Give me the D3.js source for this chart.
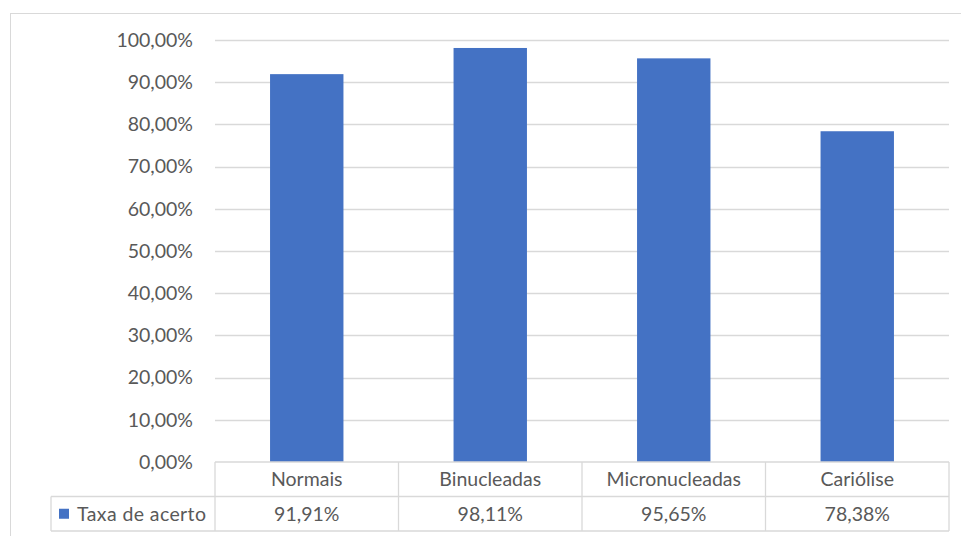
<!DOCTYPE html>
<html>
<head>
<meta charset="utf-8">
<script src="https://cdn.jsdelivr.net/npm/d3@7"></script>
<style>
    body { margin: 0; background: #fff; }
    svg text { font-family: Lato, "Open Sans", sans-serif; fill: #595959; }
</style>
</head>
<body>
<div id="chart"></div>
<script>
    'use strict';

    var categories = ['Normais', 'Binucleadas', 'Micronucleadas', 'Cariólise'],
        values = [0.9191, 0.9811, 0.9565, 0.7838],
        seriesName = 'Taxa de acerto',
        ticks = [0, 0.1, 0.2, 0.3, 0.4, 0.5, 0.6, 0.7, 0.8, 0.9, 1.0];

    var width = 961,
        height = 536,
        plotLeft = 215,
        plotRight = 949,
        plotTop = 40,
        base = 462,
        rowH = 34.5,
        legendLeft = 51,
        fontSize = 19.5,
        grey = '#d9d9d9',
        blue = '#4472c4';

    var fmt = function (v) {
        return (v * 100).toFixed(2).replace('.', ',') + '%';
    };

    var svg = d3.select('#chart').append('svg')
        .attr('width', width)
        .attr('height', height);

    // chart frame
    svg.append('rect')
        .attr('x', 10.5).attr('y', 13.5)
        .attr('width', 990).attr('height', 560)
        .attr('fill', 'none').attr('stroke', grey);

    var x = d3.scaleBand().domain(categories).range([plotLeft, plotRight]).paddingInner(0).paddingOuter(0),
        y = d3.scaleLinear().domain([0, 1]).range([base, plotTop]);

    // gridlines
    svg.append('g').selectAll('line')
        .data(ticks.filter(function (t) { return t > 0; }))
        .enter().append('line')
        .attr('x1', plotLeft).attr('x2', plotRight)
        .attr('y1', function (d) { return Math.round(y(d)) + 0.5; })
        .attr('y2', function (d) { return Math.round(y(d)) + 0.5; })
        .attr('stroke', grey).attr('stroke-width', 1.3);

    // y tick labels
    svg.append('g').selectAll('text')
        .data(ticks)
        .enter().append('text')
        .attr('x', 193)
        .attr('y', function (d) { return y(d); })
        .attr('dy', '0.35em')
        .attr('text-anchor', 'end')
        .attr('font-size', fontSize)
        .text(fmt);

    // bars
    var barW = x.bandwidth() * 0.4;
    svg.append('g').selectAll('rect')
        .data(values)
        .enter().append('rect')
        .attr('x', function (d, i) { return x(categories[i]) + (x.bandwidth() - barW) / 2; })
        .attr('y', function (d) { return y(d); })
        .attr('width', barW)
        .attr('height', function (d) { return base - y(d); })
        .attr('fill', blue);

    // data table
    var table = svg.append('g').attr('stroke', grey).attr('stroke-width', 1.3).attr('fill', 'none');
    table.append('line').attr('x1', plotLeft).attr('x2', plotRight).attr('y1', base).attr('y2', base);
    table.append('line').attr('x1', legendLeft).attr('x2', plotRight).attr('y1', base + rowH).attr('y2', base + rowH);
    table.append('line').attr('x1', legendLeft).attr('x2', plotRight).attr('y1', base + 2 * rowH).attr('y2', base + 2 * rowH);
    table.append('line').attr('x1', legendLeft).attr('x2', legendLeft).attr('y1', base + rowH).attr('y2', base + 2 * rowH);
    table.selectAll('.col')
        .data(categories.concat(['end']))
        .enter().append('line')
        .attr('class', 'col')
        .attr('x1', function (d, i) { return plotLeft + i * x.bandwidth(); })
        .attr('x2', function (d, i) { return plotLeft + i * x.bandwidth(); })
        .attr('y1', base).attr('y2', base + 2 * rowH);

    svg.append('g').selectAll('text')
        .data(categories)
        .enter().append('text')
        .attr('x', function (d) { return x(d) + x.bandwidth() / 2; })
        .attr('y', base + rowH / 2)
        .attr('dy', '0.35em')
        .attr('text-anchor', 'middle')
        .attr('font-size', fontSize)
        .text(function (d) { return d; });

    svg.append('g').selectAll('text')
        .data(values)
        .enter().append('text')
        .attr('x', function (d, i) { return x(categories[i]) + x.bandwidth() / 2; })
        .attr('y', base + rowH * 1.5)
        .attr('dy', '0.35em')
        .attr('text-anchor', 'middle')
        .attr('font-size', fontSize)
        .text(fmt);

    // legend key
    svg.append('rect')
        .attr('x', 59).attr('y', base + rowH * 1.5 - 5)
        .attr('width', 10).attr('height', 10)
        .attr('fill', blue);
    svg.append('text')
        .attr('x', 77).attr('y', base + rowH * 1.5)
        .attr('dy', '0.35em')
        .attr('font-size', fontSize)
        .attr('letter-spacing', 0.4)
        .text(seriesName);
</script>
</body>
</html>
